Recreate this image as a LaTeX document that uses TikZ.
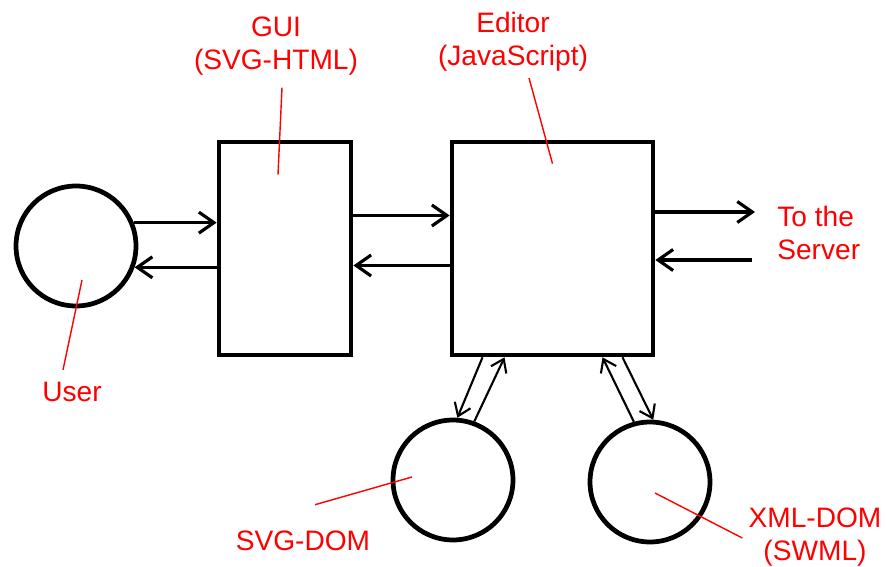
\documentclass[tikz,border=0pt]{standalone}
\usepackage{fontspec}
\setmainfont{Liberation Sans}
\usetikzlibrary{arrows.meta,calc}

\begin{document}
\begin{tikzpicture}[x=0.02cm, y=-0.02cm,
  >={Straight Barb[length=3mm, width=4.2mm]},
  box/.style={draw, line width=0.095cm, inner sep=0pt},
  blob/.style={draw, circle, line width=0.095cm, minimum size=2.4cm, inner sep=0pt},
  flow/.style={->, line width=1.8pt},
  slant/.style={-{Straight Barb[length=2.4mm, width=3.4mm]}, line width=1.2pt},
  lbl/.style={text=red, font=\fontsize{16}{18.8}\selectfont, inner sep=0pt,
    align=center},
  lead/.style={red, line width=0.8pt}]
  \useasboundingbox (0,0) rectangle (886,567);
  % blocks
  \node[box, minimum width=2.64cm, minimum height=4.26cm] (gui) at (285,248.5) {};
  \node[box, minimum width=4.02cm, minimum height=4.26cm] (editor) at (552.5,248.5) {};
  \node[blob] (user) at (76,246) {};
  \node[blob] (svgdom) at (453,480) {};
  \node[blob] (xmldom) at (650,482) {};
  % labels
  \node[lbl] (guilbl) at (276,46) {GUI\\(SVG-HTML)};
  \node[lbl] (editorlbl) at (513,42) {Editor\\(JavaScript)};
  \node[lbl] (userlbl) at (72,392) {User};
  \node[lbl, align=left, anchor=west] (serverlbl) at (777,233) {To the\\Server};
  \node[lbl] (svglbl) at (303,541) {SVG-DOM};
  \node[lbl] (xmllbl) at (815,537) {XML-DOM\\(SWML)};
  \coordinate (srvout) at (755,212);
  \coordinate (srvin) at (752,260);
  % message flow
  \draw[flow] (user.22) -- (user.22 -| gui.west);
  \draw[flow] (user.-20 -| gui.west) -- (user.-20);
  \draw[flow] ($(gui.east)+(0,-33)$) -- ($(editor.west)+(0,-33)$);
  \draw[flow] ($(editor.west)+(0,17)$) -- ($(gui.east)+(0,17)$);
  \draw[flow] (srvout -| editor.east) -- (srvout);
  \draw[flow] (srvin) -- (srvin -| editor.east);
  \draw[slant] ($(editor.south)+(-70,0)$) -- (svgdom.86);
  \draw[slant] (svgdom.70) -- ($(editor.south)+(-48,0)$);
  \draw[slant] (xmldom.105) -- ($(editor.south)+(50,0)$);
  \draw[slant] ($(editor.south)+(70,0)$) -- (xmldom.87);
  % leader lines
  \draw[lead] ($(guilbl.south)+(6,12)$) -- ($(gui.north)+(-7,35)$);
  \draw[lead] ($(editorlbl.south)+(16,6)$) -- ($(editor.north)+(0,24)$);
  \draw[lead] ($(userlbl.north)+(-9,-12)$) -- ($(user.center)+(6,34)$);
  \draw[lead] ($(svglbl.north)+(12,-26)$) -- ($(svgdom.center)+(-41,-3)$);
  \draw[lead] ($(xmldom.center)+(5,11)$) -- ($(xmllbl.west)+(-6,1)$);
\end{tikzpicture}
\end{document}
